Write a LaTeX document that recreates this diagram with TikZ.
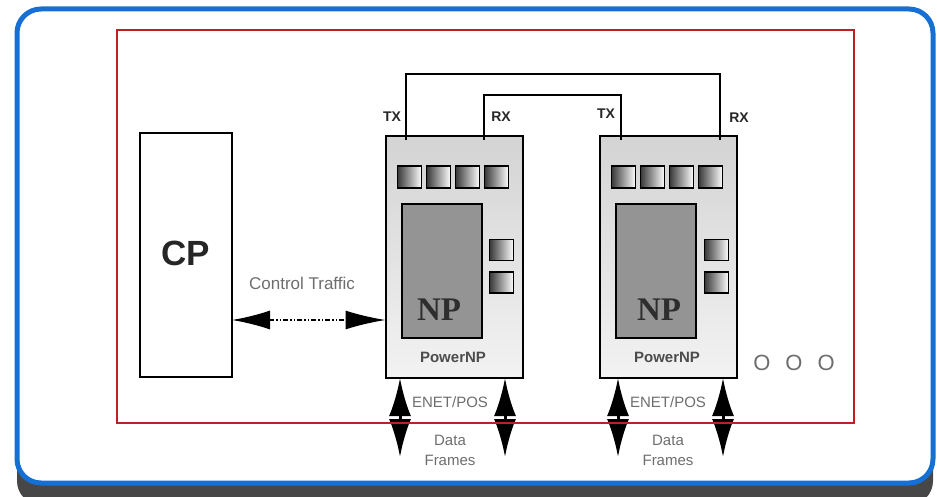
\documentclass[tikz,border=0pt]{standalone}
\usepackage{fontspec}
\setmainfont{Liberation Sans}
\newfontfamily\npfont{Liberation Serif}
\usepackage{tikz}
\usetikzlibrary{arrows.meta}

\definecolor{framecol}{RGB}{22,112,212}
\definecolor{boardcol}{RGB}{192,32,36}
\definecolor{labelgray}{RGB}{110,110,110}

\begin{document}
\begin{tikzpicture}[
            x = 1pt, y = -1pt, % pixel like units, y downwards
            > = Latex, % arrow head style
            semithick % line style
        ]

        \tikzstyle{box}=[
            draw = black,
            line width = 1.6pt,
            inner sep = 0pt,
            outer sep = 0pt
        ]
        \tikzstyle{npbox}=[box, line width = 2pt, top color = black!17, bottom color = black!5,
            minimum width = 137pt, minimum height = 242pt]
        \tikzstyle{core}=[box, fill = black!42, minimum width = 80pt, minimum height = 134pt]
        \tikzstyle{port}=[box, line width = 1.5pt, left color = black!78, right color = white,
            minimum width = 24pt, minimum height = 22pt]
        \tikzstyle{pin}=[font = \fontsize{14}{14}\selectfont\bfseries, text = black!85]
        \tikzstyle{gtext}=[font = \fontsize{15}{15}\selectfont, text = labelgray]
        \tikzstyle{wire}=[line width = 2pt]
        \tikzstyle{frames}=[line width = 3pt, {Latex[length=38pt, width=22pt]}-{Latex[length=38pt, width=22pt]}]

    \useasboundingbox (0,0) rectangle (937,497);

    % Frame with its shadow
    \fill[black!72, rounded corners = 24pt] (17,21) rectangle (933,505);
    \draw[framecol, fill = white, line width = 5pt, rounded corners = 24pt] (17,9) rectangle (933,483);

    % Define the nodes and their positions
    \node[box, minimum width = 92pt, minimum height = 244pt] (cp) at (186,255) {};
    \node[font = \fontsize{35}{35}\selectfont\bfseries, text = black!85] (cplabel) at (186,253) {CP};

    \node[npbox] (np1) at (454,257) {};
    \node[npbox] (np2) at (668,257) {};

    \node[core] (core1) at (442,271) {};
    \node[core] (core2) at (656,271) {};
    \node[anchor = base, font = \fontsize{33}{33}\selectfont\npfont\bfseries, text = black!82] (nplabel1) at (439,320) {NP};
    \node[anchor = base, font = \fontsize{33}{33}\selectfont\npfont\bfseries, text = black!82] (nplabel2) at (659,320) {NP};

    \node[port] (p1a) at (409.5,177) {};
    \node[port] (p1b) at (438.5,177) {};
    \node[port] (p1c) at (467.5,177) {};
    \node[port] (p1d) at (496.5,177) {};
    \node[port] (p2a) at (623.5,177) {};
    \node[port] (p2b) at (652.5,177) {};
    \node[port] (p2c) at (681.5,177) {};
    \node[port] (p2d) at (710.5,177) {};

    \node[port, minimum height = 21pt] (s1a) at (501.5,250) {};
    \node[port, minimum height = 21pt] (s1b) at (501.5,282.5) {};
    \node[port, minimum height = 21pt] (s2a) at (716.5,250) {};
    \node[port, minimum height = 21pt] (s2b) at (716.5,282.5) {};

    \node[font = \fontsize{15}{15}\selectfont\bfseries, text = black!70] (pnp1) at (453,357) {PowerNP};
    \node[font = \fontsize{15}{15}\selectfont\bfseries, text = black!70] (pnp2) at (667,357) {PowerNP};

    % TX / RX pins
    \coordinate (tx1) at (406,140);
    \coordinate (rx1) at (484,140);
    \coordinate (tx2) at (621,140);
    \coordinate (rx2) at (720,140);
    \node[pin] (txl1) at (392,117) {TX};
    \node[pin] (rxl1) at (501,117) {RX};
    \node[pin] (txl2) at (606,114) {TX};
    \node[pin] (rxl2) at (739,118) {RX};

    % Draw wires between the chips
    \draw[wire] (tx1) -- ++(0,-66) -| (rx2);
    \draw[wire] (rx1) -- ++(0,-45) -| (tx2);

    % Control traffic
    \node[font = \fontsize{17}{17}\selectfont, text = labelgray] (ctl) at (302,283) {Control Traffic};
    \draw[line width = 1.4pt, {Latex[length=38pt, width=19pt]}-{Latex[length=40pt, width=19pt]},
        dash pattern = on 5pt off 2pt on 1.5pt off 2pt on 1.5pt off 2pt]
        ([yshift=-65pt]cp.east) -- ([yshift=-63pt]np1.west);

    % Data frames
    \coordinate (e1a) at (400,457);
    \coordinate (e1b) at (505,457);
    \coordinate (e2a) at (618,457);
    \coordinate (e2b) at (723,457);
    \draw[frames] (np1.south -| e1a) -- (e1a);
    \draw[frames] (np1.south -| e1b) -- (e1b);
    \draw[frames] (np2.south -| e2a) -- (e2a);
    \draw[frames] (np2.south -| e2b) -- (e2b);

    \node[gtext] (enet1) at (450,402) {ENET/POS};
    \node[gtext] (enet2) at (668,402) {ENET/POS};
    \node[gtext] (data1) at (450,440) {Data};
    \node[gtext] (fr1) at (450,460) {Frames};
    \node[gtext] (data2) at (668,440) {Data};
    \node[gtext] (fr2) at (668,460) {Frames};

    \node[font = \fontsize{22}{22}\selectfont, text = labelgray] (more) at (794,363) {O\hspace{15pt}O\hspace{15pt}O};

    % Board outline
    \draw[boardcol, line width = 1.5pt] (117,30) rectangle (854,423);
\end{tikzpicture}
\end{document}
